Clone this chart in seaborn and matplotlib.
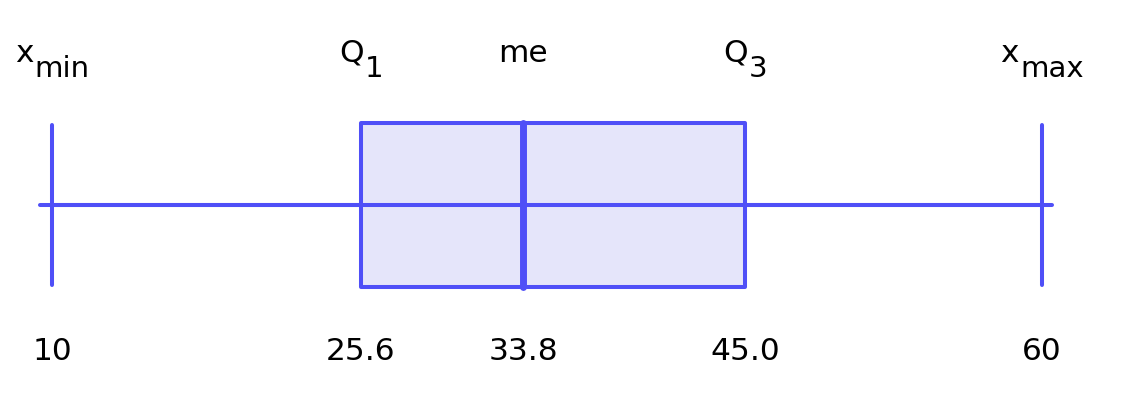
import matplotlib
matplotlib.use("Agg")
import matplotlib.pyplot as plt
import seaborn as sns

# five-number summary
values = [10, 25.6, 33.8, 45.0, 60]
value_labels = ["10", "25.6", "33.8", "45.0", "60"]
top_main = ["x", "Q", "me", "Q", "x"]
top_sub = ["min", "1", "", "3", "max"]

line_col = "#4f4ff7"
fill_col = "#e5e5fa"
fs = 22.5
fs_sub = 21

sns.set_style("white")
plt.rcParams["font.family"] = ["DejaVu Sans"]

fig = plt.figure(figsize=(11.22, 4.12), dpi=100)
ax = fig.add_axes([0, 0, 1, 1])

# with 5 points the quartiles fall exactly on 25.6 / 33.8 / 45.0 and whiskers reach 10 / 60
sns.boxplot(x=values, ax=ax, width=0.8, color=fill_col, linecolor=line_col,
            saturation=1, linewidth=2.9, whis=1.5, capwidths=0.78,
            medianprops=dict(linewidth=5, color=line_col, solid_capstyle="round"),
            whiskerprops=dict(color=line_col, solid_capstyle="round"),
            capprops=dict(color=line_col, solid_capstyle="round"),
            boxprops=dict(edgecolor=line_col, joinstyle="round"))

# horizontal line drawn straight through the box, a bit past both ends
ax.hlines(0, min(values) - 0.6, max(values) + 0.5, color=line_col, linewidth=2.9,
          zorder=5, capstyle="round")

ax.set_xlim(7.37, 64.04)
ax.set_ylim(1.01, -1.0)
ax.axis("off")

# top labels: near full-size subscripts, dropped ~15 px, whole label centred on the value
renderer = fig.canvas.get_renderer()
y_top = (62 - 205) / 205
for v, main, sub in zip(values, top_main, top_sub):
    t1 = ax.annotate(main, xy=(v, y_top), xytext=(0, 0), textcoords="offset pixels",
                     ha="left", va="baseline", fontsize=fs, color="black")
    t2 = ax.annotate(sub, xy=(v, y_top), xytext=(0, -15), textcoords="offset pixels",
                     ha="left", va="baseline", fontsize=fs_sub, color="black")
    w1 = t1.get_window_extent(renderer).width
    w2 = t2.get_window_extent(renderer).width if sub else 0
    gap = 1 if sub else 0
    total = w1 + gap + w2
    t1.set_position((-total / 2, 0))
    t2.set_position((-total / 2 + w1 + gap, -15))

y_bot = (360 - 205) / 205
for v, lab in zip(values, value_labels):
    ax.text(v, y_bot, lab, ha="center", va="baseline", fontsize=fs, color="black")

fig.savefig("out.png", dpi=100)
